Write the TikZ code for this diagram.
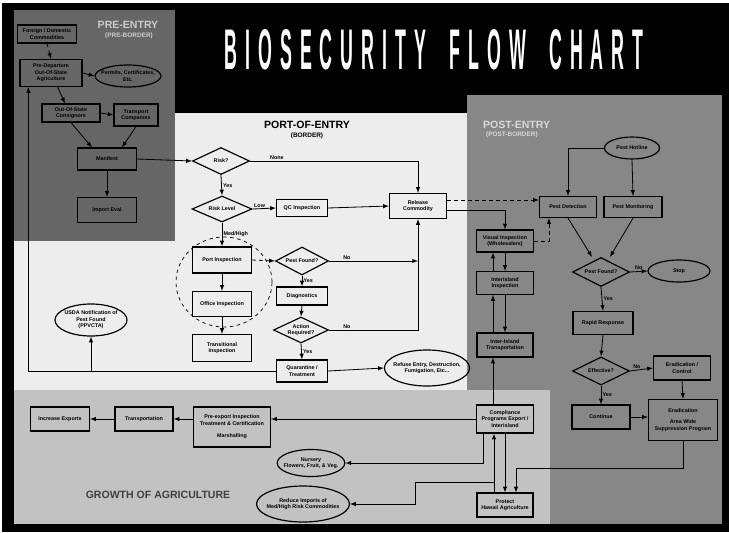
\documentclass[tikz,border=0pt]{standalone}
\usepackage{fontspec}
\setmainfont{Liberation Sans}
\newfontfamily\bannerfont[LetterSpace=45]{Liberation Sans}
\usepackage{graphicx}
\usetikzlibrary{arrows,shapes.geometric,calc,positioning}

\definecolor{preentry}{gray}{0.40}
\definecolor{portentry}{gray}{0.93}
\definecolor{postentry}{gray}{0.53}
\definecolor{agri}{gray}{0.76}

\tikzset{
  txt/.style={font=\fontsize{4.6}{5.6}\selectfont\bfseries},
  box/.style={txt, draw, line width=1pt, rectangle, align=center, inner sep=1pt},
  oval/.style={txt, draw, line width=1pt, ellipse, align=center, inner ysep=0pt, inner xsep=-3pt},
  dia/.style={txt, draw, line width=1pt, diamond, aspect=2, align=center, inner sep=0pt},
  arr/.style={->, >=latex, line width=0.7pt},
  lbl/.style={txt, inner sep=1pt},
  zone/.style={font=\fontsize{9}{10}\selectfont\bfseries},
  sub/.style={font=\fontsize{5.5}{6}\selectfont\bfseries},
}

\begin{document}
\begin{tikzpicture}[x=0.03cm, y=-0.03cm]
\useasboundingbox (0,0) rectangle (729,532);
% background zones
\fill[white] (0,0) rectangle (729,532);
\fill[black] (2,3) rectangle (729,532);
\fill[portentry] (14,113) rectangle (467,390);
\fill[preentry] (14,10) rectangle (175,241);
\fill[postentry] (467,95) rectangle (722,524);
\fill[agri] (14,390) rectangle (550,524);

\node[white, font=\bannerfont\bfseries] (banner) at (434,50) {\resizebox{12.57cm}{1.2cm}{BIOSECURITY\hspace{1.3em}FLOW\hspace{1.3em}CHART}};

% pre-entry
\node[zone, white!80!black] (pretitle) at (128,25) {PRE-ENTRY};
\node[sub, white!80!black] (presub) at (129,36) {(PRE-BORDER)};
\node[box, minimum width=1.77cm, minimum height=0.54cm] (foreign) at (47,34) {Foreign / Domestic\\Commodities};
\node[box, minimum width=1.86cm, minimum height=0.81cm] (outstate) at (51,73) {Pre-Departure\\Out-Of-State\\Agriculture};
\node[oval, minimum width=1.89cm, minimum height=0.66cm] (permits) at (128,76) {Permits, Certificates,\\Etc.};
\node[box, minimum width=1.74cm, minimum height=0.54cm] (consignors) at (71,113) {Out-Of-State\\Consignors};
\node[box, minimum width=1.32cm, minimum height=0.66cm] (transport) at (136,115) {Transport\\Companies};
\node[box, minimum width=1.77cm, minimum height=0.66cm] (manifest) at (107,159) {Manifest};
\node[box, minimum width=1.77cm, minimum height=0.75cm] (importeval) at (107,210) {Import Eval};

\draw[arr, dashed] (foreign.south) -- (outstate.north);
\draw[arr] (outstate.east) -- (permits.west);
\draw[arr] ([xshift=0.2cm]outstate.south) -- ([xshift=-0.18cm]consignors.north);
\draw[arr] (consignors.east) -- (transport.west);
\draw[arr] (consignors.south) -- ([xshift=-0.45cm]manifest.north);
\draw[arr] (transport.south) -- ([xshift=0.45cm]manifest.north);
\draw[arr] (manifest.south) -- (importeval.north);

% port-of-entry
\node[zone] (porttitle) at (307,125) {PORT-OF-ENTRY};
\node[sub] (portsub) at (307,136) {(BORDER)};
\node[dia, minimum width=1.71cm, minimum height=0.81cm] (risk) at (221,161) {Risk?};
\node[dia, minimum width=1.8cm, minimum height=0.78cm] (risklevel) at (222,209) {Risk Level};
\node[box, minimum width=1.53cm, minimum height=0.51cm] (qc) at (302,208) {QC Inspection};
\node[box, minimum width=1.71cm, minimum height=0.75cm] (release) at (418,206) {Release\\Commodity};
\node[box, minimum width=1.77cm, minimum height=0.78cm] (portinsp) at (222,260) {Port Inspection};
\node[dia, minimum width=1.59cm, minimum height=0.84cm] (pestfound) at (302,261) {Pest Found?};
\node[box, minimum width=1.53cm, minimum height=0.54cm] (diagnostics) at (302,296) {Diagnostics};
\node[dia, minimum width=1.65cm, minimum height=0.78cm] (action) at (301,330) {Action\\Required?};
\node[box, minimum width=1.53cm, minimum height=0.66cm] (quarantine) at (302,371) {Quarantine /\\Treatment};
\node[oval, minimum width=2.37cm, minimum height=1.08cm] (refuse) at (427,368) {Refuse Entry, Destruction,\\Fumigation, Etc...};
\node[box, minimum width=1.77cm, minimum height=0.75cm] (office) at (222,304) {Office Inspection};
\node[box, minimum width=1.77cm, minimum height=0.81cm] (transitional) at (222,348) {Transitional\\Inspection};
\node[oval, minimum width=2.16cm, minimum height=0.96cm] (usda) at (91,320) {USDA Notification of\\Pest Found\\(PPVCTA)};
\draw[dashed, line width=0.6pt] (224,282) ellipse [x radius=1.44cm, y radius=1.35cm];

\draw[arr] (manifest.east) -- (risk.west);
\draw[arr] (risk.east) -| (release.north) node[lbl, pos=0.08, above] {None};
\draw[arr] (risk.south) -- (risklevel.north) node[lbl, midway, right] {Yes};
\draw[arr] (risklevel.east) -- (qc.west) node[lbl, pos=0.3, above] {Low};
\draw[arr] (qc.east) -- (release.west);
\draw[arr] (risklevel.south) -- (portinsp.north) node[lbl, midway, right] {Med/High};
\draw[arr, dashed] (portinsp.east) -- (pestfound.west);
\draw[arr] (pestfound.east) -- (pestfound.east -| release.south) node[lbl, pos=0.2, above] {No};
\draw[arr] (pestfound.south) -- (diagnostics.north) node[lbl, midway, right] {Yes};
\draw[arr] (diagnostics.south) -- (action.north);
\draw[arr] (action.east) -| (release.south) node[lbl, pos=0.1, above] {No};
\draw[arr] (action.south) -- (quarantine.north) node[lbl, midway, right] {Yes};
\draw[arr] (quarantine.east) -- (refuse.west);
\draw[arr] (portinsp.south) -- (office.north);
\draw[arr] (office.south) -- (transitional.north);
\draw[arr] (quarantine.west) -| ([xshift=0.27cm]outstate.south west);
\draw[arr] (usda.south |- quarantine.west) -- (usda.south);

% post-entry
\node[zone, white!85!black, anchor=west] (posttitle) at (479,125) {POST-ENTRY};
\node[sub, white!85!black, anchor=west] (postsub) at (482,135) {(POST-BORDER)};
\node[oval, minimum width=1.65cm, minimum height=0.66cm] (hotline) at (632,148) {Pest Hotline};
\node[box, minimum width=1.71cm, minimum height=0.63cm] (pestdetect) at (568,207) {Pest Detection};
\node[box, minimum width=1.74cm, minimum height=0.63cm] (pestmon) at (633,207) {Pest Monitoring};
\node[box, minimum width=1.71cm, minimum height=0.66cm] (visual) at (505,241) {Visual Inspection\\(Wholesalers)};
\node[box, minimum width=1.71cm, minimum height=0.69cm] (interinsp) at (505,283) {Interisland\\Inspection};
\node[box, minimum width=1.68cm, minimum height=0.72cm] (intertrans) at (505,345) {Inter-Island\\Transportation};
\node[box, minimum width=1.71cm, minimum height=0.84cm] (compliance) at (505,419) {Compliance\\Programs Export /\\Interisland};
\node[box, minimum width=1.68cm, minimum height=0.72cm] (protect) at (505,505) {Protect\\Hawaii Agriculture};
\node[dia, minimum width=1.71cm, minimum height=0.87cm] (pestfound2) at (601,272) {Pest Found?};
\node[oval, minimum width=1.86cm, minimum height=0.66cm] (stop) at (679,271) {Stop};
\node[box, minimum width=1.8cm, minimum height=0.69cm] (rapid) at (603,323) {Rapid Response};
\node[dia, minimum width=1.71cm, minimum height=0.84cm] (effective) at (601,371) {Effective?};
\node[box, minimum width=1.71cm, minimum height=0.72cm] (eradctrl) at (682,368) {Eradication /\\Control};
\node[box, minimum width=1.74cm, minimum height=0.72cm] (continue) at (601,417) {Continue};
\node[box, minimum width=2.07cm, minimum height=1.23cm] (eradarea) at (683,420) {Eradication\\[4pt]Area Wide\\Suppression Program};

\coordinate (relup) at ([yshift=0.18cm]release.east);
\coordinate (reldown) at ([yshift=-0.12cm]release.east);
\draw[arr, dashed] (relup) -- (relup -| pestdetect.west);
\draw[arr] (reldown) -| (visual.north);
\draw[arr, dashed] (visual.east) -| ([xshift=0.3cm]pestdetect.south west);
\draw[arr] ([xshift=-0.36cm]interinsp.north) -- ([xshift=-0.36cm]visual.south);
\draw[arr] (visual.south) -- (interinsp.north);
\draw[arr] ([xshift=-0.36cm]intertrans.north) -- ([xshift=-0.36cm]interinsp.south);
\draw[arr] (interinsp.south) -- (intertrans.north);
\draw[arr] ([xshift=-0.36cm]compliance.north) -- ([xshift=-0.36cm]intertrans.south);
\draw[arr] ([xshift=-0.33cm]protect.north) -- ([xshift=-0.33cm]compliance.south);
\draw[arr] (compliance.south) -- (protect.north);
\draw[arr] (eradarea.south) -- ++(0,27) -| ([xshift=0.33cm]protect.north);
\draw[arr] (hotline.west) -| (pestdetect.north);
\draw[arr] (hotline.south) -- (pestmon.north);
\draw[arr] (pestdetect.south) -- ([xshift=-0.27cm]pestfound2.north);
\draw[arr] (pestmon.south) -- ([xshift=0.27cm]pestfound2.north);
\draw[arr] (pestfound2.east) -- (stop.west) node[lbl, midway, above] {No};
\draw[arr] (pestfound2.south) -- (rapid.north) node[lbl, midway, right] {Yes};
\draw[arr] (rapid.south) -- (effective.north);
\draw[arr] (effective.east) -- (eradctrl.west) node[lbl, pos=0.3, above] {No};
\draw[arr] (effective.south) -- (continue.north) node[lbl, midway, right] {Yes};
\draw[arr] (continue.east) -- (continue.east -| eradarea.west);
\draw[arr] (eradctrl.south) -- (eradarea.north);

% growth of agriculture
\node[zone, black!75] (growth) at (158,495) {GROWTH OF AGRICULTURE};
\node[box, minimum width=2.31cm, minimum height=1.2cm] (preexport) at (232,427) {Pre-export Inspection\\Treatment \& Certification\\[5pt]Marshalling};
\node[box, minimum width=1.74cm, minimum height=0.72cm] (transportation) at (144,419) {Transportation};
\node[box, minimum width=1.77cm, minimum height=0.72cm] (exports) at (60,419) {Increase Exports};
\node[oval, minimum width=2.01cm, minimum height=0.81cm] (nursery) at (311,463) {Nursery\\Flowers, Fruit, \& Veg.};
\node[oval, minimum width=2.4cm, minimum height=1.08cm] (reduce) at (303,504) {Reduce Imports of\\Med/High Risk Commodities};

\draw[arr] (compliance.west) -- (compliance.west -| preexport.east);
\draw[arr] (preexport.west |- transportation.east) -- (transportation.east);
\draw[arr] (transportation.west) -- (exports.east);
\draw[arr] ([xshift=-0.66cm]compliance.south) |- (nursery.east);
\coordinate (junction) at ([xshift=-0.33cm, yshift=0.3cm]protect.north);
\draw[arr] (junction) -- ++(-79,0) |- (reduce.east);
\end{tikzpicture}
\end{document}
